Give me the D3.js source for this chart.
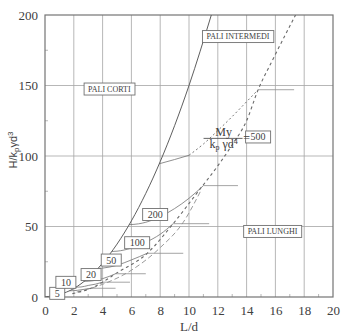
<!DOCTYPE html>
<html><head><meta charset="utf-8">
<script src="https://cdn.jsdelivr.net/npm/d3@7/dist/d3.min.js"></script>
<style>
html,body{margin:0;padding:0;background:#fff;}
svg{display:block;}
.serif{font-family:"Liberation Serif","Times New Roman",Times,serif;}
.sans{font-family:"Liberation Sans",Arial,sans-serif;}
</style></head>
<body>
<svg id="c" width="346" height="334"></svg>
<script>
// ---------- data ----------
const xTicks = [0,2,4,6,8,10,12,14,16,18,20];
const yTicks = [0,50,100,150,200];
const xMinor = [1,3,5,7,9,11,13,15,17,19];
const yMinor = [25,75,125,175];

// short pile curve (solid)
const shortPile = [[0,0],[2,6],[4,24],[6,54],[8,96],[10,150],[11.55,200]];

// intermediate pile curves, one per My/(kp γ d^4) value
const mValues = [5,10,20,50,100,200,500];
const inter5   = [[1.71,4.4],[2.0,4.5],[2.5,5.1],[3.0,5.9],[3.2,6.2]];
const inter10  = [[2.15,7.0],[2.5,7.1],[3.0,8.2],[3.5,9.1],[4.0,10.5]];
const inter20  = [[2.71,11.1],[3.0,11.2],[4.0,13.0],[4.9,16.5]];
const inter50  = [[3.68,20.3],[4.0,20.5],[5.0,22.5],[6.0,26.3],[7.1,31.0]];
const inter100 = [[4.64,32.3],[5.0,32.5],[6.0,34.7],[7.0,38.8],[8.0,44.5],[8.9,52.0]];
const inter200 = [[5.85,51.3],[6.5,51.9],[7.0,53.0],[8.0,57.0],[9.0,62.7],[10.0,70.0],[11.0,79.0]];
const inter500a = [[7.94,94.5],[9.0,97.5],[10.0,100.5]];
const inter500b = [[10.0,100.5],[11.0,108.5],[12.0,118.0],[13.0,128.0],[14.0,138.5],[14.8,147.0]];

// long pile lines (horizontal)
const longH     = [6.2, 10.5, 16.5, 31, 52, 79, 147];
const longStart = [3.2, 4.0, 4.9, 7.1, 8.9, 11.0, 14.8];
const longEnd   = [4.9, 5.9, 7.0, 9.6, 11.4, 13.4, 17.3];

// boundary intermediate / long piles (dashed)
const boundary = [[1.9,2.4],[3.2,6.2],[4.0,10.5],[4.9,16.5],[7.1,31],[8.9,52],[10.8,77],[12,93],[13,108],[14,125],[14.8,147],[15.8,168],[17.4,200]];
const boundary2 = [[2.2,3.5],[4.0,9.0],[6.0,19],[8.0,35],[9.6,53],[10.8,75]];

// ---------- layout ----------
const svg = d3.select("#c");
const L = 45, R = 333, T = 15, B = 297;
const x = d3.scaleLinear().domain([0,20]).range([L,R]);
const y = d3.scaleLinear().domain([0,200]).range([B,T]);
const ink = "#404040";

const plot = svg.append("g");
plot.append("clipPath").attr("id","clip").append("rect")
  .attr("x",L).attr("y",T).attr("width",R-L).attr("height",B-T);

// grid
plot.selectAll(".vg").data(xTicks.slice(1,-1)).join("line")
  .attr("x1",d=>x(d)).attr("x2",d=>x(d)).attr("y1",T).attr("y2",B)
  .attr("stroke","#a4a4a4").attr("stroke-width",0.8);
plot.selectAll(".hg").data(yTicks.slice(1,-1)).join("line")
  .attr("y1",d=>y(d)).attr("y2",d=>y(d)).attr("x1",L).attr("x2",R)
  .attr("stroke","#a4a4a4").attr("stroke-width",0.8);

// minor ticks
plot.selectAll(".xm").data(xMinor).join("line")
  .attr("x1",d=>x(d)).attr("x2",d=>x(d)).attr("y1",B).attr("y2",B-3)
  .attr("stroke","#999").attr("stroke-width",0.7);
plot.selectAll(".ym").data(yMinor).join("line")
  .attr("y1",d=>y(d)).attr("y2",d=>y(d)).attr("x1",L).attr("x2",L+3)
  .attr("stroke","#999").attr("stroke-width",0.7);

// frame
plot.append("rect").attr("x",L).attr("y",T).attr("width",R-L).attr("height",B-T)
  .attr("fill","none").attr("stroke","#747474").attr("stroke-width",1.2);

// axes (tick labels only)
const xAxis = d3.axisBottom(x).tickValues(xTicks).tickSize(0).tickPadding(9);
const gx = svg.append("g").attr("transform",`translate(0,${B})`).call(xAxis);
const yAxis = d3.axisLeft(y).tickValues(yTicks).tickSize(0).tickPadding(7);
const gy = svg.append("g").attr("transform",`translate(${L},0)`).call(yAxis);
[gx,gy].forEach(g=>{
  g.select(".domain").remove();
  g.attr("font-family",null).attr("font-size",null);
  g.selectAll("text").attr("class","serif").style("font-size","13px").attr("fill",ink);
});

// axis titles
svg.append("text").attr("class","serif").attr("x",(L+R)/2).attr("y",331).attr("text-anchor","middle")
  .style("font-size","13px").attr("fill",ink).text("L/d");
const yt = svg.append("text").attr("class","sans").attr("transform","translate(17,150) rotate(-90)")
  .attr("text-anchor","middle").style("font-size","11px").attr("fill",ink);
yt.append("tspan").text("H/k");
yt.append("tspan").style("font-size","8px").attr("dy",2).text("p");
yt.append("tspan").attr("dy",-2).text("γd");
yt.append("tspan").style("font-size","8px").attr("dy",-4).text("3");

// curves
const line = d3.line().x(d=>x(d[0])).y(d=>y(d[1])).curve(d3.curveMonotoneX);
const cg = plot.append("g").attr("clip-path","url(#clip)").attr("fill","none");

cg.append("path").attr("d",line(boundary2)).attr("stroke","#8e8e8e")
  .attr("stroke-width",0.9).attr("stroke-dasharray","5,3");
cg.append("path").attr("d",line(boundary)).attr("stroke","#6a6a6a")
  .attr("stroke-width",1.1).attr("stroke-dasharray","3,3");

[inter5,inter10,inter20,inter50,inter100,inter200,inter500a].forEach(p=>{
  cg.append("path").attr("d",line(p)).attr("stroke","#727272").attr("stroke-width",0.8);
});
cg.append("path").attr("d",line(inter500b)).attr("stroke","#777")
  .attr("stroke-width",1).attr("stroke-dasharray","2,2.5");

cg.selectAll(".long").data(longH).join("line")
  .attr("x1",(d,i)=>x(longStart[i])).attr("x2",(d,i)=>x(longEnd[i]))
  .attr("y1",d=>y(d)).attr("y2",d=>y(d))
  .attr("stroke","#8e8e8e").attr("stroke-width",0.8);

cg.append("path").attr("d",line(shortPile)).attr("stroke","#555").attr("stroke-width",0.95);

// boxed labels
function boxLabel(cx, cy, txt, fs, padX, padY){
  const g = svg.append("g");
  const t = g.append("text").attr("class","serif").attr("x",cx).attr("y",cy).attr("text-anchor","middle")
    .attr("dominant-baseline","central").style("font-size",fs+"px")
    .attr("fill",ink).text(txt);
  const bb = t.node().getBBox();
  g.insert("rect","text").attr("x",bb.x-padX).attr("y",bb.y-padY)
    .attr("width",bb.width+2*padX).attr("height",bb.height+2*padY)
    .attr("fill","#fff").attr("stroke","#707070").attr("stroke-width",0.9);
}
// value boxes (positions in data coordinates)
const valuePos = [[0.85,2.6],[1.45,10.4],[3.2,15.9],[4.6,26.2],[6.4,38.5],[7.65,58.5],[14.8,113.5]];
mValues.forEach((m,i)=>boxLabel(x(valuePos[i][0]), y(valuePos[i][1]), String(m), 10, 5, 0.5));

boxLabel(x(4.47), y(147.5), "PALI CORTI", 8, 4, 1.5);
boxLabel(x(13.4), y(184.7), "PALI INTERMEDI", 8, 4, 1.5);
boxLabel(x(15.8), y(46.5), "PALI LUNGHI", 8, 4, 1.5);

// formula  My / (kp γ d^4) =
const fx = x(12.4), fy = y(112.5);
const fg = svg.append("g").attr("class","serif").attr("fill",ink);
fg.append("text").attr("x",fx).attr("y",fy-2.5).attr("text-anchor","middle")
  .style("font-size","12px").text("My");
fg.append("line").attr("x1",fx-20).attr("x2",fx+19).attr("y1",fy).attr("y2",fy)
  .attr("stroke","#555").attr("stroke-width",0.9);
const den = fg.append("text").attr("x",fx).attr("y",fy+10).attr("text-anchor","middle").style("font-size","12px");
den.append("tspan").text("k");
den.append("tspan").style("font-size","8px").attr("dy",2).text("p");
den.append("tspan").attr("dy",-2).text(" γd");
den.append("tspan").style("font-size","8px").attr("dy",-4).text("4");
fg.append("text").attr("x",fx+23).attr("y",fy+4).attr("text-anchor","middle")
  .style("font-size","12px").text("=");
</script>
</body></html>
